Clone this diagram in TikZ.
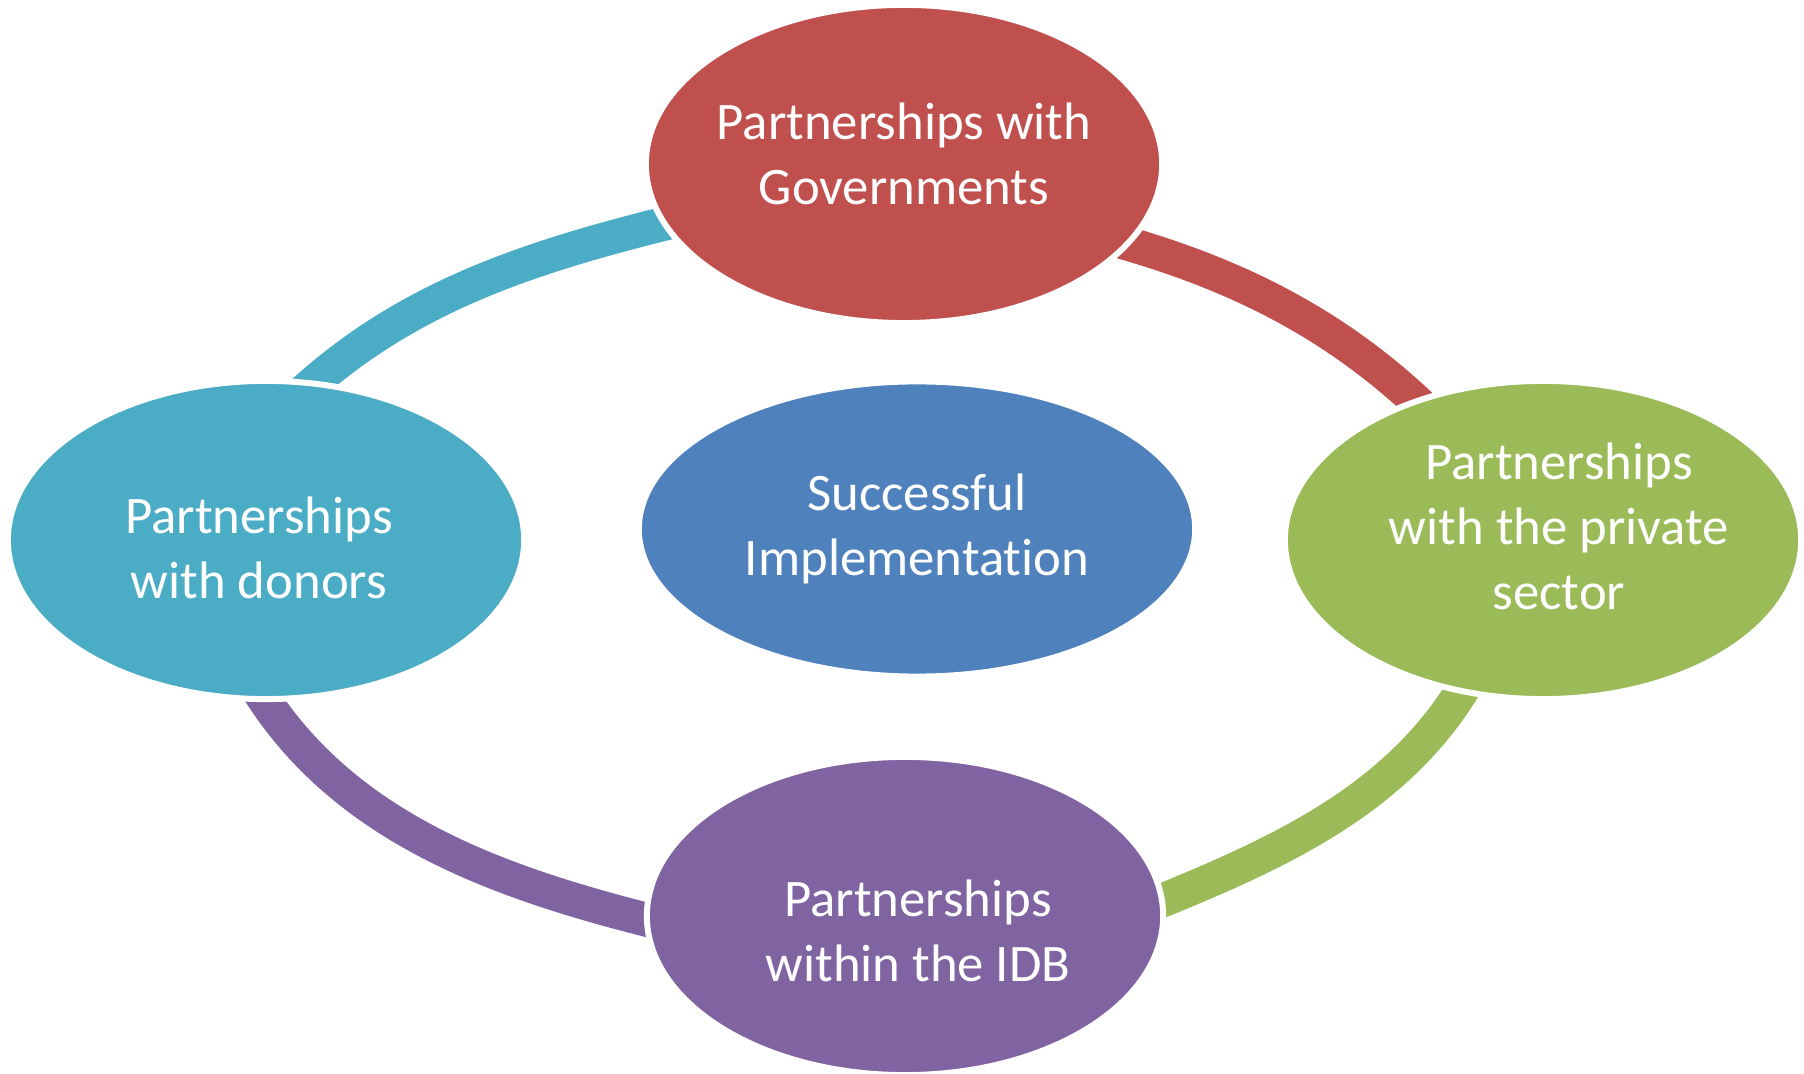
\documentclass[tikz,border=0pt]{standalone}
\usepackage{fontspec}
\setmainfont{Carlito}[RawFeature=-liga]
\usetikzlibrary{calc,shapes.geometric,backgrounds}
\definecolor{GovRed}{HTML}{C0504D}
\definecolor{PrivGreen}{HTML}{9BBB59}
\definecolor{IdbPurple}{HTML}{8064A2}
\definecolor{DonorTeal}{HTML}{4BACC6}
\definecolor{CoreBlue}{HTML}{4F81BD}

\begin{document}
\begin{tikzpicture}[
  x=0.01cm, y=-0.01cm,
  font=\fontsize{15}{18.5}\selectfont,
  partner/.style={ellipse, draw=white, line width=0.06cm, inner sep=0pt, minimum width=5.16cm, minimum height=3.18cm},
  core/.style={partner, minimum width=5.56cm, minimum height=2.95cm},
  caption/.style={text=white, align=center, inner sep=0pt},
  band/.style={line width=0.34cm},
]
\useasboundingbox (0,0) rectangle (1804,1074);
\node[partner, fill=GovRed] (gov) at (904,164) {};
\node[partner, fill=PrivGreen] (priv) at (1543,540) {};
\node[partner, fill=IdbPurple] (idb) at (905,916) {};
\node[partner, fill=DonorTeal] (donor) at (266,540) {};
\node[core, fill=CoreBlue] (core) at (917,529) {};
% labels sit a little off the ellipse centres
\node[caption] (govtxt) at ($(gov)+(0,-10)$) {Partnerships with\\Governments};
\node[caption] (privtxt) at ($(priv)+(16,-14)$) {Partnerships\\with the private\\sector};
\node[caption] (idbtxt) at ($(idb)+(13,15)$) {Partnerships\\within the IDB};
\node[caption] (donortxt) at ($(donor)+(-7,8)$) {Partnerships\\with donors};
\node[caption] (coretxt) at (core) {Successful\\Implementation};
% ring segments, tucked under the ellipses
\begin{scope}[on background layer]
\draw[band, GovRed] ($(gov.center)!.9!(gov.-20)$) .. controls (1233,272) and (1336,323) .. ($(priv.center)!.9!(priv.132)$);
\draw[band, PrivGreen] ($(priv.center)!.88!(priv.-118)$) .. controls (1401,800) and (1277,854) .. ($(idb.center)!.92!(idb.2)$);
\draw[band, IdbPurple] ($(idb.center)!.92!(idb.-178)$) .. controls (501,884) and (341,829) .. ($(donor.center)!.88!(donor.-95)$);
\draw[band, DonorTeal] ($(donor.center)!.9!(donor.77)$) .. controls (409,294) and (536,255) .. ($(gov.center)!.9!(gov.-166)$);
\end{scope}
\end{tikzpicture}
\end{document}
